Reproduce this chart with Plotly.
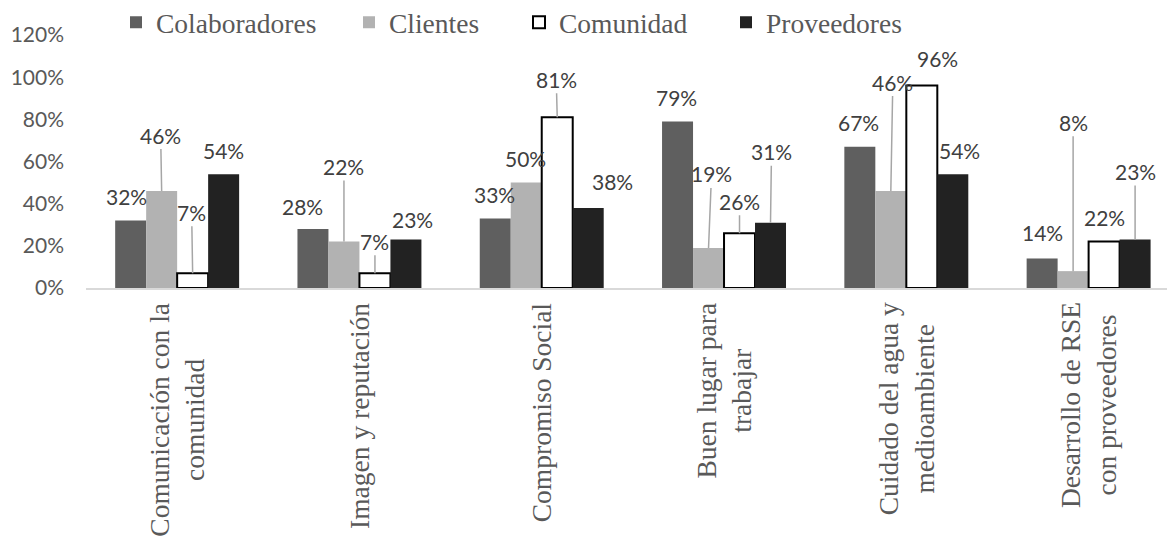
import plotly.graph_objects as go

# ---------------- data ----------------
categories = [
    "Comunicación con la<br>comunidad",
    "Imagen y reputación",
    "Compromiso Social",
    "Buen lugar para<br>trabajar",
    "Cuidado del agua y<br>medioambiente",
    "Desarrollo de RSE<br>con proveedores",
]
series_names = ["Colaboradores", "Clientes", "Comunidad", "Proveedores"]
colaboradores = [32, 28, 33, 79, 67, 14]
clientes = [46, 22, 50, 19, 46, 8]
comunidad = [7, 7, 81, 26, 96, 22]
proveedores = [54, 23, 38, 31, 54, 23]
y_tick_values = [0, 20, 40, 60, 80, 100, 120]
y_tick_labels = ["0%", "20%", "40%", "60%", "80%", "100%", "120%"]

series_values = [colaboradores, clientes, comunidad, proveedores]

# ---------------- styles ----------------
fill_colors = ["#5f5f5f", "#b2b2b2", "#ffffff", "#222222"]
outline_colors = ["#5f5f5f", "#b2b2b2", "#000000", "#222222"]
outline_widths = [0, 0, 2, 0]

# data-label placement (pixel offsets from bar top centre) and leader-line flags
label_dx = [
    [-4, -10, -1, -1, -1, 0],
    [-1, 0, -1, 3, 2, 0],
    [-1, 0, -1, 0, 16, 0],
    [0, 7, 24, 1, 7, 0],
]
label_dy = [
    [-24, -22, -24, -24, -24, -26],
    [-56, -75, -24, -74, -109, -149],
    [-61, -32, -38, -32, -27, -24],
    [-24, -20, -26, -71, -24, -68],
]
leader = [
    [0, 0, 0, 0, 0, 0],
    [1, 1, 0, 1, 1, 1],
    [1, 1, 1, 1, 0, 0],
    [0, 0, 0, 1, 0, 1],
]
# legend text start (px, in container coordinates)
legend_text_px = [157, 390, 560, 767]
W, H = 1167, 540
ML, MR, MT, MB = 86, 0, 35, 251.5

BARGAP = 0.32
LABEL_FONT = dict(family="Lato, Open Sans, sans-serif", size=21, color="#404040")
SERIF = "Liberation Serif, Times New Roman, serif"

fig = go.Figure()
for j, name in enumerate(series_names):
    fig.add_trace(go.Bar(
        name=name,
        x=categories,
        y=series_values[j],
        marker=dict(color=fill_colors[j],
                    line=dict(color=outline_colors[j], width=outline_widths[j])),
        legend="legend" if j == 0 else f"legend{j+1}",
        hoverinfo="skip",
    ))

bar_w = (1 - BARGAP) / len(series_names)
annotations = []
for j, vals in enumerate(series_values):
    off = (j - (len(series_names) - 1) / 2) * bar_w
    for i, v in enumerate(vals):
        common = dict(x=i + off, y=v, xref="x", yref="y", text=f"{v}%", font=LABEL_FONT)
        if leader[j][i]:
            annotations.append(dict(**common, showarrow=True, arrowhead=0, arrowwidth=1.5,
                                    arrowcolor="#a6a6a6", standoff=0, startstandoff=0,
                                    ax=label_dx[j][i], ay=label_dy[j][i]))
        else:
            annotations.append(dict(**common, showarrow=False, xanchor="center", yanchor="middle",
                                    xshift=label_dx[j][i], yshift=-label_dy[j][i]))

for i, cat in enumerate(categories):
    annotations.append(dict(x=i, y=0, xref="x", yref="y", text=cat, showarrow=False,
                            textangle=-90, xanchor="center", yanchor="top", yshift=-12.5,
                            align="center", font=dict(family=SERIF, size=27.5, color="#595959")))

plot_w = W - ML - MR
legends = {}
for j in range(len(series_names)):
    key = "legend" if j == 0 else f"legend{j+1}"
    legends[key] = dict(x=(legend_text_px[j] - 41 - ML) / plot_w, xanchor="left",
                        y=1.05, yanchor="middle",
                        orientation="h", bgcolor="rgba(0,0,0,0)", borderwidth=0,
                        font=dict(family=SERIF, size=27.5, color="#595959"))

fig.update_layout(
    width=W, height=H,
    margin=dict(l=ML, r=MR, t=MT, b=MB, pad=0, autoexpand=False),
    paper_bgcolor="white", plot_bgcolor="white",
    barmode="group", bargap=BARGAP, bargroupgap=0,
    showlegend=True,
    annotations=annotations,
    xaxis=dict(type="category", range=[-0.5, 5.43], showticklabels=False, showgrid=False,
               showline=True, linecolor="#d9d9d9", linewidth=1.5, ticks="", zeroline=False,
               fixedrange=True),
    yaxis=dict(range=[0, 120], tickmode="array", tickvals=y_tick_values, ticktext=y_tick_labels,
               showgrid=False, zeroline=False, showline=False, ticks="", ticklabelstandoff=21,
               tickfont=dict(family="Lato, Open Sans, sans-serif", size=21, color="#595959"),
               fixedrange=True),
    **legends,
)

fig.write_html("out.html", config={"displayModeBar": False, "staticPlot": True},
               post_script="document.body.style.margin='0px';")
